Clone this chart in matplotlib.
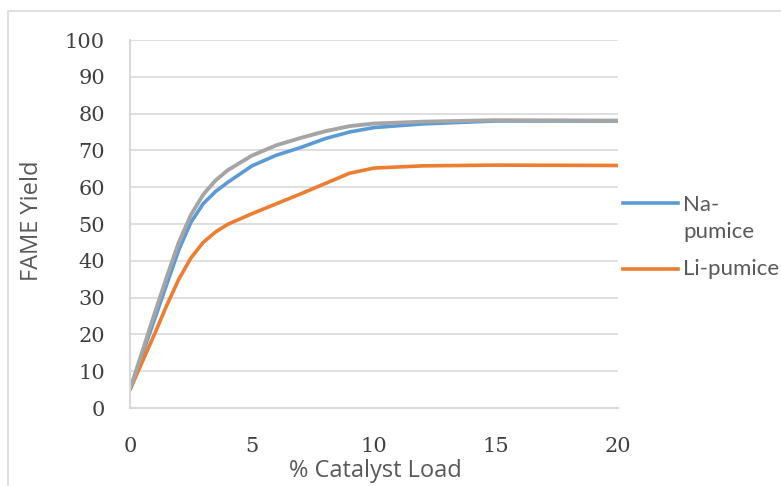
import matplotlib.pyplot as plt
from matplotlib.patches import Rectangle
from matplotlib.lines import Line2D

# catalyst load (%) and FAME yield
load = [0, 1, 1.5, 2, 2.5, 3, 3.5, 4, 5, 6, 7, 8, 9, 10, 12, 15, 20]
na_pumice = [5, 24, 33.5, 43, 50.5, 55.5, 58.8, 61.3, 65.8, 68.7, 70.8, 73.2, 75, 76.2, 77.2, 78, 78]
li_pumice = [5, 20, 27.8, 35, 40.8, 45, 47.8, 49.9, 52.8, 55.5, 58.2, 61, 63.8, 65.2, 65.8, 66, 65.9]
third = [5, 25.5, 35.5, 45, 52.5, 58, 61.8, 64.6, 68.6, 71.4, 73.4, 75.2, 76.6, 77.3, 77.8, 78.2, 78.1]

x_ticks = [0, 5, 10, 15, 20]
y_ticks = list(range(0, 101, 10))
series_names = ['Na-\npumice', 'Li-pumice']
blue, orange, gray = '#5B9BD5', '#ED7D31', '#A5A5A5'

grid_col = '#D9D9D9'
text_col = '#595959'

fig = plt.figure(figsize=(7.81, 4.86), dpi=100)
fig.patches.append(Rectangle((8 / 781, -0.1), 1.2, 1.1 - 11 / 486,
                             transform=fig.transFigure, fill=False,
                             edgecolor=grid_col, linewidth=1.2))

ax = fig.add_axes([130 / 781, 1 - 408 / 486, 488 / 781, 368 / 486])
ax.plot(load, na_pumice, color=blue, lw=2.6, solid_capstyle='round',
        solid_joinstyle='round')
ax.plot(load, li_pumice, color=orange, lw=2.6, solid_capstyle='round',
        solid_joinstyle='round')
ax.plot(load, third, color=gray, lw=2.8, solid_capstyle='round',
        solid_joinstyle='round')

ax.set_xlim(0, 20)
ax.set_ylim(0, 100)
ax.set_xticks(x_ticks)
ax.set_yticks(y_ticks)
ax.yaxis.grid(True, color=grid_col, lw=1.2)
ax.set_axisbelow(True)
for s in ['top', 'right']:
    ax.spines[s].set_visible(False)
for s in ['left', 'bottom']:
    ax.spines[s].set_color(grid_col)
    ax.spines[s].set_linewidth(1.5)
ax.tick_params(length=0, colors=text_col, labelsize=15)
ax.tick_params(axis='x', pad=21)
ax.tick_params(axis='y', pad=18)
for lab in ax.get_xticklabels() + ax.get_yticklabels():
    lab.set_family('DejaVu Serif')
    lab.set_color('#404040')

ax.set_xlabel('% Catalyst Load', fontsize=17, color=text_col,
              family='Open Sans', va='center')
ax.xaxis.set_label_coords(0.503, -0.171)
ax.set_ylabel('FAME Yield', fontsize=17, color=text_col,
              family='Open Sans', va='center')
ax.yaxis.set_label_coords(-0.201, 0.508)

# legend drawn beside the plot, text wrapped as in the original
for name, col, y_line, y_text in [(series_names[0], blue, 0.557, 0.579),
                                   (series_names[1], orange, 0.378, 0.378)]:
    ax.add_line(Line2D([1.0102, 1.1225], [y_line, y_line], color=col, lw=2.6,
                       transform=ax.transAxes, clip_on=False))
    ax.text(1.133, y_text, name, transform=ax.transAxes, family='Lato',
            fontsize=16, color=text_col, va='top' if '\n' in name else 'center',
            linespacing=1.45)

fig.savefig('out.png', dpi=100)
